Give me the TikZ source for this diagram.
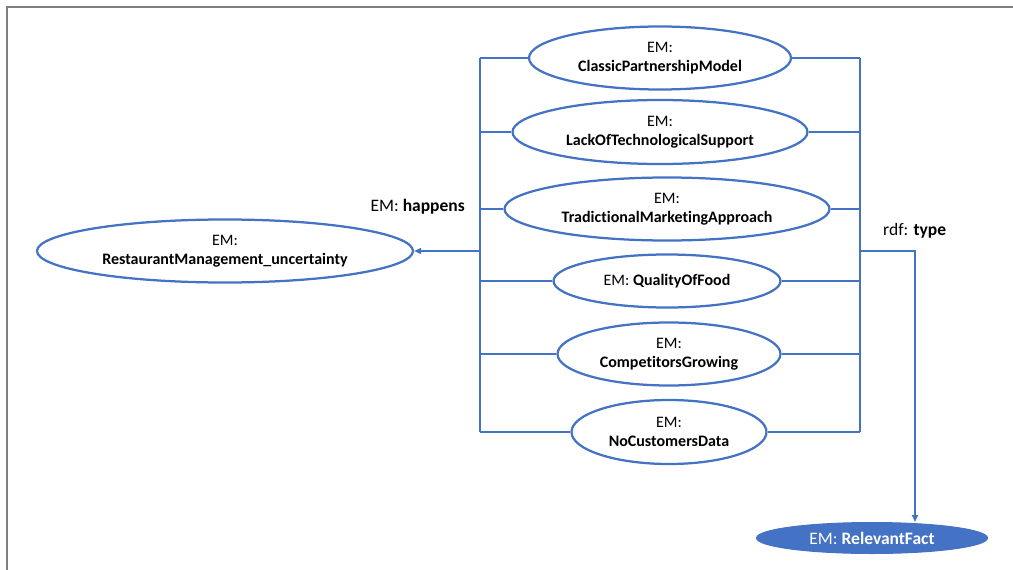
\documentclass[tikz,border=0pt]{standalone}
\usepackage{fontspec}
\setmainfont{Carlito}[Ligatures={NoCommon}]
\usetikzlibrary{shapes.geometric,arrows.meta}
\definecolor{office}{HTML}{4472C4}
\definecolor{frame}{HTML}{7F7F7F}
\begin{document}
\begin{tikzpicture}[x=1pt,y=-1pt,
  concept/.style={ellipse,draw=office,line width=2.25pt,inner sep=0pt,
    align=center,font=\fontsize{16}{19}\selectfont},
  link/.style={draw=office,line width=2.25pt},
  tip/.style={-{Triangle[length=7pt,width=6pt]}},
  lbl/.style={font=\fontsize{17.5}{20}\selectfont,inner sep=0pt}]
\useasboundingbox (0,0) rectangle (1013,570);
% outer frame
\draw[frame,line width=2pt] (6.5,570) -- (6.5,7) -- (1013,7);

% event ellipses
\node[concept,minimum width=262pt,minimum height=63pt] (e1) at (660,58) {EM:\\\textbf{ClassicPartnershipModel}};
\node[concept,minimum width=295pt,minimum height=64pt] (e2) at (660,132) {EM:\\\textbf{LackOfTechnologicalSupport}};
\node[concept,minimum width=325pt,minimum height=63pt] (e3) at (667,209) {EM:\\\textbf{TradictionalMarketingApproach}};
\node[concept,minimum width=227pt,minimum height=53pt] (e4) at (667,281) {EM: \textbf{QualityOfFood}};
\node[concept,minimum width=223pt,minimum height=63pt] (e5) at (669,354) {EM:\\\textbf{CompetitorsGrowing}};
\node[concept,minimum width=195pt,minimum height=64pt] (e6) at (669,432) {EM:\\\textbf{NoCustomersData}};

% target ellipses
\node[concept,minimum width=376pt,minimum height=63pt] (rm) at (225,251) {EM:\\\textbf{RestaurantManagement\_uncertainty}};
\node[ellipse,fill=office,draw=office,line width=1pt,inner sep=0pt,
  minimum width=231pt,minimum height=31pt,text=white,
  font=\fontsize{17.5}{20}\selectfont] (rf) at (872,538) {EM: \textbf{RelevantFact}};

% bus lines
\coordinate (lt) at (480,58);
\coordinate (lb) at (480,432);
\coordinate (lhub) at (480,251);
\coordinate (rt) at (860,58);
\coordinate (rb) at (860,432);
\coordinate (rhub) at (860,251);
\coordinate (bend) at (915,251);

\draw[link] (lt) -- (lb);
\draw[link] (rt) -- (rb);
\foreach \n in {e1,e2,e3,e4,e5,e6}{
  \draw[link] (\n.west) -- (\n.west -| lt);
  \draw[link] (\n.east) -- (\n.east -| rt);
}

% relations
\draw[link,tip] (lhub) -- (rm.east);
\draw[link,tip] (rhub) -- (bend) -- (bend |- rf.north);

\node[lbl,anchor=east] (happens) at (465,207) {EM: \textbf{happens}};
\node[lbl,anchor=west] (type) at (883,231) {rdf: \textbf{type}};
\end{tikzpicture}
\end{document}
